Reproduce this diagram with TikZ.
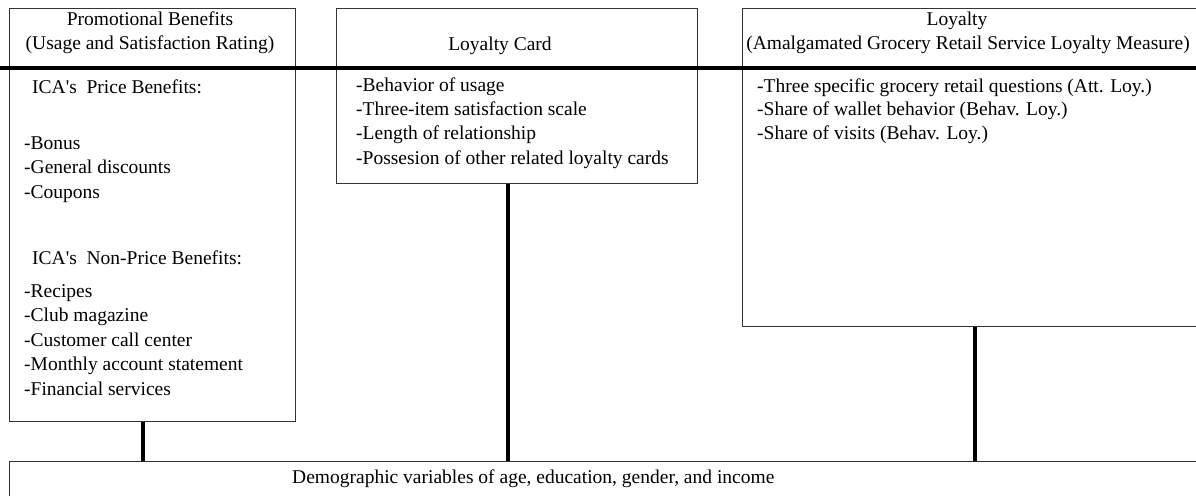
\documentclass[tikz,border=0pt]{standalone}
\usepackage{fontspec}
\setmainfont{Liberation Serif}
\begin{document}
\begin{tikzpicture}[x=1pt,y=-1pt,
  box/.style={draw=black!80, line width=1.3pt, inner sep=0pt, anchor=north west},
  conn/.style={line width=4.7pt, black},
  bar/.style={line width=4pt, black},
  txt/.style={inner sep=0pt, font=\fontsize{19.5}{23}\selectfont},
  lt/.style={txt, anchor=mid west},
  ct/.style={txt, anchor=mid}]
\useasboundingbox (0,0) rectangle (1196,495);
\clip (0,0) rectangle (1196,495);
% boxes
\node[box, minimum width=286pt, minimum height=413pt] (b1) at (9,8) {};
\node[box, minimum width=361pt, minimum height=175pt] (b2) at (336,8) {};
\node[box, minimum width=480pt, minimum height=318pt] (b3) at (742,8) {};
\node[box, minimum width=1220pt, minimum height=60pt] (demo) at (9,461) {};
% header bar
\coordinate (barL) at (0,68);
\coordinate (barR) at (1196,68);
\draw[bar] (barL) -- (barR);
% connectors
\coordinate (c1) at (143,0);
\coordinate (c2) at (508,0);
\coordinate (c3) at (975,0);
\draw[conn] (b1.south -| c1) -- (demo.north -| c1);
\draw[conn] (b2.south -| c2) -- (demo.north -| c2);
\draw[conn] (b3.south -| c3) -- (demo.north -| c3);
% headers
\node[ct] (h1a) at (150,23) {Promotional Benefits};
\node[ct] (h1b) at (150,47) {(Usage and Satisfaction Rating)};
\node[ct] (h2) at (500,48) {Loyalty Card};
\node[ct] (h3a) at (957,23) {Loyalty};
\node[ct] (h3b) at (968,47) {(Amalgamated Grocery Retail Service Loyalty Measure)};
% box 1 body
\node[lt] (p0) at (32,91) {ICA\textquotesingle s\ \ Price Benefits:};
\node[lt] (p1) at (24,147) {-Bonus};
\node[lt] (p2) at (24,171.5) {-General discounts};
\node[lt] (p3) at (24,196) {-Coupons};
\node[lt] (n0) at (32,262) {ICA\textquotesingle s\ \ Non-Price Benefits:};
\node[lt] (n1) at (24,295) {-Recipes};
\node[lt] (n2) at (24,319.5) {-Club magazine};
\node[lt] (n3) at (24,344) {-Customer call center};
\node[lt] (n4) at (24,368.5) {-Monthly account statement};
\node[lt] (n5) at (24,393) {-Financial services};
% box 2 body
\node[lt] (l1) at (356,89) {-Behavior of usage};
\node[lt] (l2) at (356,113.3) {-Three-item satisfaction scale};
\node[lt] (l3) at (356,137.6) {-Length of relationship};
\node[lt] (l4) at (356,162) {-Possesion of other related loyalty cards};
% box 3 body
\node[lt] (y1) at (757,90) {-Three specific grocery retail questions (Att. Loy.)};
\node[lt] (y2) at (757,113.5) {-Share of wallet behavior (Behav. Loy.)};
\node[lt] (y3) at (757,137) {-Share of visits (Behav. Loy.)};
% bottom
\node[lt] (d) at (292,481) {Demographic variables of age, education, gender, and income};
\end{tikzpicture}
\end{document}
